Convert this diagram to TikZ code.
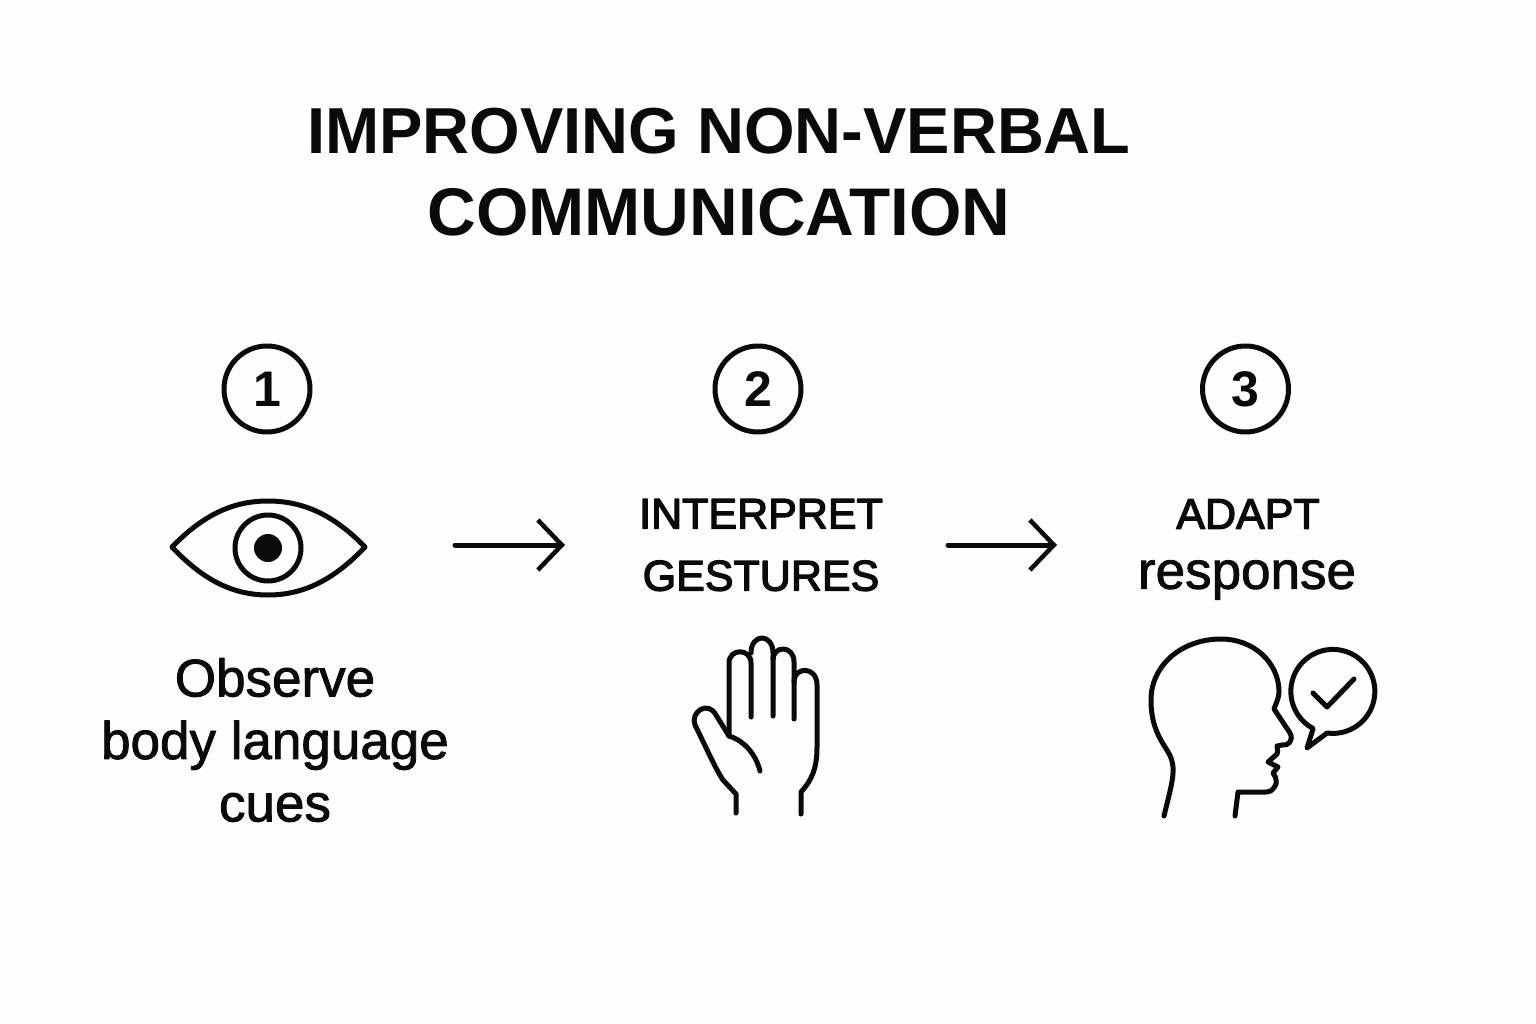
\documentclass[tikz,border=0pt]{standalone}
\usepackage{fontspec}
\usepackage{xcolor}
\usetikzlibrary{positioning}
\usetikzlibrary{arrows.meta}
\setmainfont{Liberation Sans}
\newfontfamily\medfont[FakeBold=1.6]{Liberation Sans}
\newfontfamily\semifont[FakeBold=3]{Liberation Sans}
\definecolor{inkblack}{HTML}{0A0A0A}
\definecolor{paper}{HTML}{FEFDFB}

\begin{document}
\begin{tikzpicture}[x=1pt, y=-1pt, draw=inkblack, text=inkblack, line width=5pt, line cap=round, line join=round]
    \tikzstyle{number}=[draw=inkblack,circle,minimum size=86pt,inner sep=0pt,font=\fontsize{50}{60}\selectfont\bfseries]
    \tikzstyle{caption}=[align=center,inner sep=0pt,font=\fontsize{53}{62.5}\selectfont\medfont]
    \tikzstyle{capshead}=[align=center,inner sep=0pt,font=\fontsize{43}{62}\selectfont\semifont]
    \tikzstyle{flow}=[-{Straight Barb[length=24pt,width=50pt,line width=4.5pt]}]

    \fill[paper] (0,0) rectangle (1536,1024);
    \useasboundingbox (0,0) rectangle (1536,1024);

    \node[align=center, inner sep=0pt, font=\fontsize{65}{82}\selectfont\bfseries] (title) at (719,172) {IMPROVING NON-VERBAL\\{\fontsize{67.4}{82}\selectfont COMMUNICATION}};

    \node[number] (n1) at (267,389) {1};
    \node[number] (n2) at (758,389) {2};
    \node[number] (n3) at (1245.5,389) {3};

    % eye
    \coordinate (eye) at (268,548);
    \draw (172,547) .. controls (205,513) and (235,501) .. (268,501) .. controls (301,501) and (332,513) .. (365,547)
        .. controls (332,582) and (301,595) .. (268,595) .. controls (235,595) and (205,582) .. (172,547) -- cycle;
    \draw (eye) circle (33pt);
    \fill[inkblack] (eye) circle (14pt);

    \node[caption] (observe) at (275,740) {Observe\\body language\\cues};

    \coordinate (a1) at (455,545);
    \coordinate[right=110pt of a1] (b1);
    \draw[flow] (a1) -- (b1);

    \node[capshead] (interpret) at (761,545) {INTERPRET\\GESTURES};

    \coordinate (a2) at (948,545);
    \coordinate[right=109pt of a2] (b2);
    \draw[flow] (a2) -- (b2);

    \node[capshead] (adapt) at (1248,514) {ADAPT};
    \node[caption] (response) at (1247,580) {response};

    % hand
    \draw (736,813) -- (736,794) -- (723,780) .. controls (715,768) and (705,745) .. (695,725)
        .. controls (690,712) and (708,700) .. (716,715) -- (729,736)
        .. controls (745,741) and (756,755) .. (760,771);
    \draw (729,736) -- (729,663) .. controls (729,648) and (751,648) .. (751,663) -- (751,717);
    \draw (751,653) .. controls (751,633) and (773,633) .. (773,653) -- (773,716);
    \draw (773,660) .. controls (773,645) and (794,645) .. (794,662) -- (794,719);
    \draw (794,682) .. controls (794,666) and (817,666) .. (817,685) -- (817,747)
        .. controls (817,768) and (812,780) .. (801,792) -- (801,814);

    % head
    \draw (1164,816) .. controls (1169,795) and (1174,778) .. (1173,767)
        .. controls (1172,757) and (1168,752) .. (1165,747)
        .. controls (1156,733) and (1151,720) .. (1151,700)
        .. controls (1151,665) and (1182,639) .. (1221,639)
        .. controls (1253,639) and (1279,662) .. (1279,692)
        .. controls (1279,698) and (1276,703) .. (1274,709)
        -- (1290,733) .. controls (1294,741) and (1288,746) .. (1282,745) -- (1277,746)
        .. controls (1277,750) and (1279,752) .. (1277,754) -- (1268,762) -- (1278,767) -- (1273,773)
        .. controls (1277,778) and (1277,784) .. (1275,786) .. controls (1273,790) and (1270,792) .. (1266,792)
        -- (1238,792) -- (1235,816);

    % speech bubble
    \coordinate (bubble) at (1327,733);
    \draw (bubble) arc[start angle=262, end angle=602, radius=42pt] -- (1307,748) -- cycle;
    \draw (1313,693) -- (1327,707) -- (1354,679);
\end{tikzpicture}
\end{document}
